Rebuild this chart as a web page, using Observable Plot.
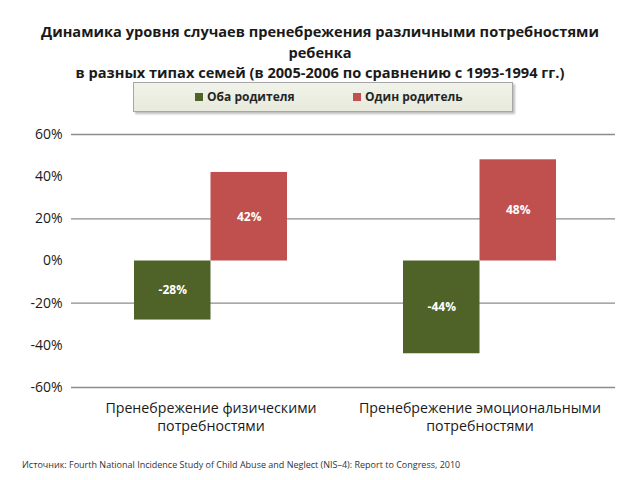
<!DOCTYPE html>
<html>
<head>
<meta charset="utf-8">
<script src="https://cdn.jsdelivr.net/npm/d3@7"></script>
<script src="https://cdn.jsdelivr.net/npm/@observablehq/plot@0.6"></script>
<style>
  html, body { margin: 0; padding: 0; background: #fff; }
  body { width: 640px; height: 480px; overflow: hidden; font-family: "Open Sans", "Noto Sans", sans-serif; color: #1a1a1a; }
  #header { position: relative; width: 640px; height: 118px; }
  #title { position: absolute; left: 0; top: 21px; width: 640px; text-align: center; font-weight: bold; font-size: 14.6px; line-height: 20.5px; color: #1a1a1a; }
  #legend { position: absolute; left: 133px; top: 82px; width: 380px; height: 30px; box-sizing: border-box;
    background: linear-gradient(#f1f3ea, #e7eadc); border: 1px solid #a6a6a6; box-shadow: 2px 2px 2px #bfbfbf;
    font-size: 12px; font-weight: bold; color: #262626; }
  .item { position: absolute; top: 6px; line-height: 16px; white-space: nowrap; }
  .sw { display: inline-block; width: 8px; height: 8px; margin-right: 4px; vertical-align: 0px; }
  #chart { height: 330px; }
  #source { padding-left: 22px; margin-top: 10px; font-size: 9px; color: #333; }
</style>
</head>
<body>
<div id="header">
  <div id="title"></div>
  <div id="legend"></div>
</div>
<div id="chart"></div>
<div id="source"></div>
<script>
const titleLines = [
  "Динамика уровня случаев пренебрежения различными потребностями",
  "ребенка",
  "в разных типах семей (в 2005-2006 по сравнению с 1993-1994 гг.)"
];
const categories = [
  "Пренебрежение физическими\nпотребностями",
  "Пренебрежение эмоциональными\nпотребностями"
];
const seriesNames = ["Оба родителя", "Один родитель"];
const bothParents = [-28, -44];
const singleParent = [42, 48];
const seriesColors = ["#4f6228", "#c0504d"];
const yTicks = [-60, -40, -20, 0, 20, 40, 60];
const gridValues = [60, 20, -20, -60];
const sourceText = "Источник: Fourth National Incidence Study of Child Abuse and Neglect (NIS–4): Report to Congress, 2010";

document.getElementById("title").innerHTML = titleLines.join("<br>");
document.getElementById("source").textContent = sourceText;

const legendPos = [61, 219];
document.getElementById("legend").innerHTML = seriesNames.map((s, i) =>
  `<div class="item" style="left:${legendPos[i]}px"><span class="sw" style="background:${seriesColors[i]}"></span>${s}</div>`
).join("");

const rows = [];
categories.forEach((c, i) => {
  rows.push({category: c, series: seriesNames[0], value: bothParents[i]});
  rows.push({category: c, series: seriesNames[1], value: singleParent[i]});
});
const leftRows = rows.filter(d => d.series === seriesNames[0]);
const rightRows = rows.filter(d => d.series === seriesNames[1]);

const half = 76.5;
const chart = Plot.plot({
  width: 640,
  height: 330,
  marginLeft: 71,
  marginRight: 25,
  marginTop: 16,
  marginBottom: 61,
  style: {fontFamily: "'Open Sans', 'Noto Sans', sans-serif", color: "#1a1a1a", background: "transparent"},
  x: {domain: categories, range: [76.5, 614.5], paddingInner: 0.431, paddingOuter: 0.2155, label: null},
  y: {domain: [-60, 60], label: null},
  color: {domain: seriesNames, range: seriesColors},
  marks: [
    Plot.ruleY(gridValues, {stroke: "#8c8c8c", strokeWidth: 1.3}),
    Plot.barY(leftRows, {x: "category", y: "value", fill: "series", insetRight: half}),
    Plot.barY(rightRows, {x: "category", y: "value", fill: "series", insetLeft: half}),
    Plot.text(leftRows, {x: "category", y: d => d.value / 2, dx: -half / 2, text: d => d.value + "%", fill: "white", fontWeight: "bold", fontSize: 12}),
    Plot.text(rightRows, {x: "category", y: d => d.value / 2, dx: half / 2, text: d => d.value + "%", fill: "white", fontWeight: "bold", fontSize: 12}),
    Plot.axisY({ticks: yTicks, tickFormat: d => d + "%", tickSize: 0, tickPadding: 9, fontSize: 14, fill: "#1a1a1a"}),
    Plot.axisX({tickSize: 0, tickPadding: 12, fontSize: 14.2, lineHeight: 1.3, fill: "#1a1a1a"})
  ]
});
document.getElementById("chart").appendChild(chart);
</script>
</body>
</html>
